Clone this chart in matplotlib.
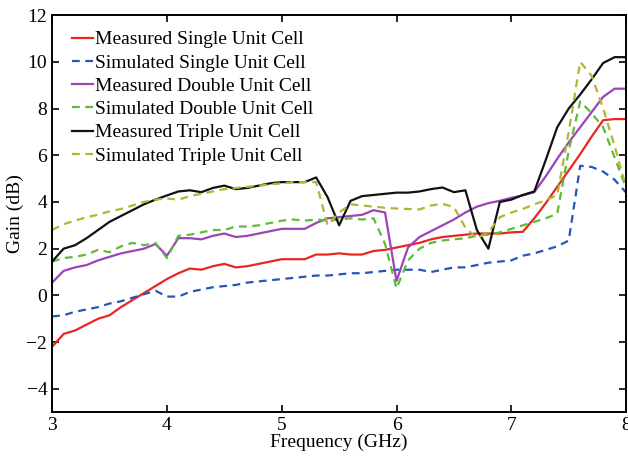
import numpy as np
import matplotlib
matplotlib.use("Agg")
import matplotlib.pyplot as plt

plt.rcParams['font.family'] = ['Liberation Serif', 'DejaVu Serif']

freq = np.round(np.arange(3.0, 8.01, 0.1), 2)

meas_single = [-2.2, -1.65, -1.5, -1.25, -1.0, -0.85, -0.5, -0.2, 0.1, 0.4,
               0.7, 0.95, 1.15, 1.1, 1.25, 1.35, 1.2, 1.25, 1.35, 1.45,
               1.55, 1.55, 1.55, 1.75, 1.75, 1.8, 1.75, 1.75, 1.9, 1.95,
               2.05, 2.15, 2.25, 2.4, 2.5, 2.55, 2.6, 2.65, 2.65, 2.65,
               2.7, 2.72, 3.3, 3.95, 4.65, 5.35, 6.05, 6.8, 7.5, 7.55, 7.55]
sim_single = [-0.9, -0.85, -0.7, -0.6, -0.5, -0.35, -0.25, -0.1, 0.05, 0.2,
              -0.05, -0.05, 0.15, 0.25, 0.35, 0.4, 0.45, 0.55, 0.6, 0.65,
              0.7, 0.75, 0.8, 0.85, 0.85, 0.9, 0.95, 0.95, 1.0, 1.05,
              1.1, 1.1, 1.1, 1.0, 1.1, 1.2, 1.2, 1.3, 1.4, 1.45,
              1.5, 1.7, 1.8, 1.95, 2.1, 2.35, 5.55, 5.5, 5.3, 4.95, 4.4]
meas_double = [0.55, 1.05, 1.2, 1.3, 1.5, 1.65, 1.8, 1.9, 2.0, 2.2,
               1.7, 2.45, 2.45, 2.4, 2.55, 2.65, 2.5, 2.55, 2.65, 2.75,
               2.85, 2.85, 2.85, 3.1, 3.3, 3.35, 3.4, 3.45, 3.65, 3.55,
               0.62, 2.05, 2.5, 2.75, 3.0, 3.25, 3.55, 3.8, 3.95, 4.05,
               4.18, 4.28, 4.42, 5.1, 5.85, 6.55, 7.2, 7.85, 8.5, 8.85, 8.85]
sim_double = [1.45, 1.6, 1.65, 1.75, 1.95, 1.85, 2.1, 2.25, 2.15, 2.25,
              1.6, 2.55, 2.6, 2.7, 2.8, 2.8, 2.95, 2.95, 3.0, 3.1,
              3.2, 3.25, 3.2, 3.25, 3.2, 3.25, 3.3, 3.25, 3.3, 2.2,
              0.3, 1.5, 2.0, 2.25, 2.35, 2.4, 2.45, 2.55, 2.6, 2.7,
              2.85, 3.0, 3.15, 3.3, 3.5, 6.2, 8.3, 7.8, 7.2, 5.9, 4.6]
meas_triple = [1.45, 2.0, 2.15, 2.45, 2.8, 3.15, 3.4, 3.65, 3.9, 4.1,
               4.28, 4.45, 4.5, 4.42, 4.6, 4.7, 4.55, 4.6, 4.7, 4.8,
               4.85, 4.85, 4.85, 5.05, 4.2, 3.0, 4.05, 4.25, 4.3, 4.35,
               4.4, 4.4, 4.45, 4.55, 4.62, 4.42, 4.5, 2.8, 2.0, 4.0,
               4.1, 4.3, 4.45, 5.8, 7.2, 8.0, 8.6, 9.25, 9.95, 10.2, 10.2]
sim_triple = [2.8, 3.05, 3.2, 3.35, 3.45, 3.6, 3.7, 3.85, 4.0, 4.1,
              4.15, 4.1, 4.25, 4.35, 4.45, 4.55, 4.6, 4.65, 4.7, 4.75,
              4.8, 4.85, 4.85, 4.85, 3.0, 3.55, 3.9, 3.85, 3.8, 3.75,
              3.72, 3.7, 3.68, 3.85, 3.92, 3.78, 2.9, 2.45, 2.7, 3.35,
              3.55, 3.7, 3.9, 4.07, 4.3, 7.0, 10.0, 9.4, 8.0, 6.4, 4.6]

labels = ['Measured Single Unit Cell', 'Simulated Single Unit Cell',
          'Measured Double Unit Cell', 'Simulated Double Unit Cell',
          'Measured Triple Unit Cell', 'Simulated Triple Unit Cell']
series = [meas_single, sim_single, meas_double, sim_double, meas_triple, sim_triple]
colors = ['#e8261f', '#2457b5', '#9a44b8', '#5dbb3a', '#111111', '#b3b530']
styles = ['-', (0, (3.5, 2.5)), '-', (0, (3.5, 2.5)), '-', (0, (3.5, 2.5))]

fig = plt.figure(figsize=(6.28, 4.58), dpi=100)
ax = fig.add_axes([0.083, 0.1, 0.914, 0.867])

for y, lab, c, ls in zip(series, labels, colors, styles):
    ax.plot(freq, y, color=c, linestyle=ls, linewidth=1.6, label=lab)

ax.set_xlim(3, 8)
ax.set_ylim(-5, 12)
ax.set_xticks(range(3, 9))
ax.set_yticks(range(-4, 13, 2))
ax.set_yticklabels([str(v).replace('-', '\u2212') for v in range(-4, 13, 2)])
ax.set_xlabel('Frequency (GHz)', fontsize=14, labelpad=0)
ax.set_ylabel('Gain (dB)', fontsize=14, labelpad=2)
ax.tick_params(direction='in', top=True, right=True, labelsize=14, length=5, width=1.2)
for s in ax.spines.values():
    s.set_linewidth(1.4)

ax.legend(loc='upper left', frameon=False, fontsize=14, handlelength=1.1,
          handletextpad=0.1, labelspacing=0.29, borderaxespad=0.3,
          bbox_to_anchor=(0.011, 0.995))

fig.savefig('out.png', dpi=100)
